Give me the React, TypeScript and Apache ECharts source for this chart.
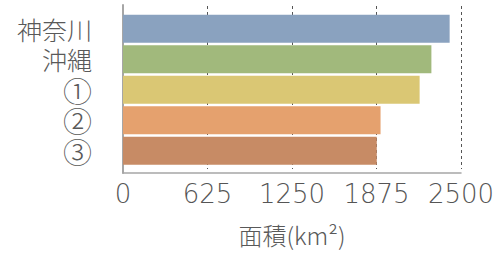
import React, { useEffect, useRef } from "react";
import * as echarts from "echarts";

const categories = ["神奈川", "沖縄", "①", "②", "③"];
const areas = [2416, 2281, 2194, 1905, 1877];
const barColors = ["#8aa2bf", "#a1b97c", "#dac774", "#e5a16e", "#c78b65"];
const xTicks = [0, 625, 1250, 1875, 2500];
const axisName = "面積(km²)";

const FONT = "'Noto Sans CJK JP', 'Noto Sans', sans-serif";
const NUM_FONT = "'DejaVu Sans', sans-serif";
const CIRCLED = /^[①-⑳]$/;

export default function App() {
  const ref = useRef<HTMLDivElement>(null);
  useEffect(() => {
    document.body.style.margin = "0";
    const chart = echarts.init(ref.current!, undefined, { renderer: "svg" });
    const xMin = xTicks[0];
    const xMax = xTicks[xTicks.length - 1];
    const interval = xTicks[1] - xTicks[0];
    const left = 123;
    const width = 338;
    chart.setOption({
      animation: false,
      grid: [
        { left, width, top: 5, height: 168 },
        { left, width, top: 6, height: 163 },
        { left, width, top: 13.5, height: 152.5 },
      ],
      xAxis: [
        {
          gridIndex: 0,
          type: "value",
          min: xMin,
          max: xMax,
          interval,
          axisLine: { show: true, lineStyle: { color: "#a6a6a6", width: 1.5 } },
          axisTick: { show: false },
          splitLine: { show: false },
          axisLabel: {
            fontFamily: NUM_FONT,
            fontWeight: 200,
            fontSize: 26,
            color: "#555555",
            margin: 8,
            formatter: (v: number) => String(v),
          },
          name: axisName,
          nameLocation: "middle",
          nameGap: 49,
          nameTextStyle: { fontFamily: FONT, fontSize: 24, color: "#595959", fontWeight: 300 },
        },
        {
          gridIndex: 1,
          type: "value",
          min: xMin,
          max: xMax,
          interval,
          axisLine: { show: false },
          axisTick: { show: false },
          axisLabel: { show: false },
          splitLine: {
            show: true,
            lineStyle: { color: "#555555", type: [3, 3], width: 1 },
          },
        },
        {
          gridIndex: 2,
          type: "value",
          min: xMin,
          max: xMax,
          interval,
          show: false,
        },
      ],
      yAxis: [
        {
          gridIndex: 0,
          type: "value",
          min: 0,
          max: 1,
          axisLine: { show: true, lineStyle: { color: "#a6a6a6", width: 2 } },
          axisTick: { show: false },
          axisLabel: { show: false },
          splitLine: { show: false },
        },
        {
          gridIndex: 1,
          type: "value",
          show: false,
          splitLine: { show: false },
        },
        {
          gridIndex: 2,
          type: "category",
          data: categories,
          inverse: true,
          axisLine: { show: false },
          axisTick: { show: false },
          axisLabel: {
            interval: 0,
            fontFamily: FONT,
            fontWeight: 300,
            fontSize: 25,
            lineHeight: 25,
            color: "#595959",
            margin: 31,
            formatter: (v: string) => (CIRCLED.test(v) ? `{c|${v}}` : v),
            rich: {
              c: {
                fontFamily: FONT,
                fontWeight: 300,
                fontSize: 29,
                lineHeight: 26,
                color: "#595959",
              },
            },
          },
        },
      ],
      series: [
        {
          type: "bar",
          xAxisIndex: 2,
          yAxisIndex: 2,
          barCategoryGap: "8%",
          data: areas.map((v, i) => ({ value: v, itemStyle: { color: barColors[i] } })),
        },
      ],
    });
    return () => chart.dispose();
  }, []);
  return <div ref={ref} style={{ width: 503, height: 255 }} />;
}
